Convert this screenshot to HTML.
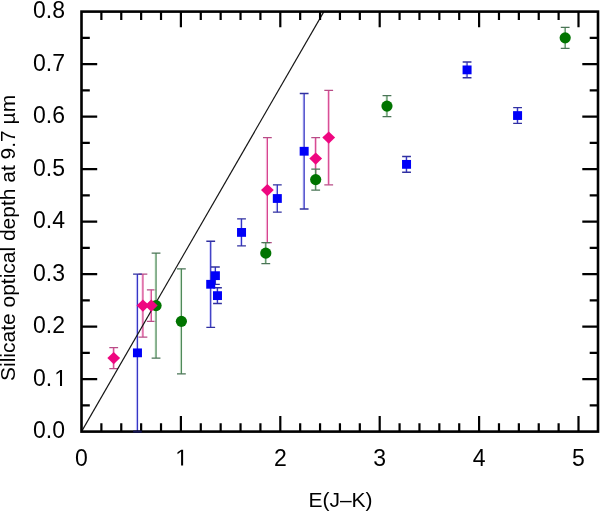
<!DOCTYPE html>
<html><head><meta charset="utf-8"><style>
html,body{margin:0;padding:0;background:#fff;}
svg{display:block;will-change:transform;}
</style></head><body>
<svg width="600" height="512" viewBox="0 0 600 512">
<rect width="600" height="512" fill="#fff"/>
<path d="M112.61 348.40V367.80" stroke="#fbcdea" stroke-width="1.0" fill="none"/><path d="M113.71 347.60V368.60" stroke="#d6468e" stroke-width="1.3" fill="none"/><path d="M109.31 347.60H118.11M109.31 368.60H118.11" stroke="#b84c86" stroke-width="1.3" fill="none"/>
<path d="M141.83 274.90V336.30" stroke="#fbcdea" stroke-width="1.0" fill="none"/><path d="M142.93 274.10V337.10" stroke="#d6468e" stroke-width="1.3" fill="none"/><path d="M138.53 274.10H147.33M138.53 337.10H147.33" stroke="#b84c86" stroke-width="1.3" fill="none"/>
<path d="M150.18 290.65V320.55" stroke="#fbcdea" stroke-width="1.0" fill="none"/><path d="M151.28 289.85V321.35" stroke="#d6468e" stroke-width="1.3" fill="none"/><path d="M146.88 289.85H155.68M146.88 321.35H155.68" stroke="#b84c86" stroke-width="1.3" fill="none"/>
<path d="M266.28 138.40V241.80" stroke="#fbcdea" stroke-width="1.0" fill="none"/><path d="M267.38 137.60V242.60" stroke="#d6468e" stroke-width="1.3" fill="none"/><path d="M262.98 137.60H271.78M262.98 242.60H271.78" stroke="#b84c86" stroke-width="1.3" fill="none"/>
<path d="M314.59 138.40V178.80" stroke="#fbcdea" stroke-width="1.0" fill="none"/><path d="M315.69 137.60V179.60" stroke="#d6468e" stroke-width="1.3" fill="none"/><path d="M311.29 137.60H320.09M311.29 179.60H320.09" stroke="#b84c86" stroke-width="1.3" fill="none"/>
<path d="M327.61 91.15V184.05" stroke="#fbcdea" stroke-width="1.0" fill="none"/><path d="M328.71 90.35V184.85" stroke="#d6468e" stroke-width="1.3" fill="none"/><path d="M324.31 90.35H333.11M324.31 184.85H333.11" stroke="#b84c86" stroke-width="1.3" fill="none"/>
<path d="M154.95 253.90V357.30" stroke="#dcf2dc" stroke-width="1.0" fill="none"/><path d="M156.05 253.10V358.10" stroke="#4f8a5a" stroke-width="1.3" fill="none"/><path d="M151.65 253.10H160.45M151.65 358.10H160.45" stroke="#4a7456" stroke-width="1.3" fill="none"/>
<path d="M180.30 269.65V373.05" stroke="#dcf2dc" stroke-width="1.0" fill="none"/><path d="M181.40 268.85V373.85" stroke="#4f8a5a" stroke-width="1.3" fill="none"/><path d="M177.00 268.85H185.80M177.00 373.85H185.80" stroke="#4a7456" stroke-width="1.3" fill="none"/>
<path d="M264.69 243.40V262.80" stroke="#dcf2dc" stroke-width="1.0" fill="none"/><path d="M265.79 242.60V263.60" stroke="#4f8a5a" stroke-width="1.3" fill="none"/><path d="M261.39 242.60H270.19M261.39 263.60H270.19" stroke="#4a7456" stroke-width="1.3" fill="none"/>
<path d="M314.59 169.90V189.30" stroke="#dcf2dc" stroke-width="1.0" fill="none"/><path d="M315.69 169.10V190.10" stroke="#4f8a5a" stroke-width="1.3" fill="none"/><path d="M311.29 169.10H320.09M311.29 190.10H320.09" stroke="#4a7456" stroke-width="1.3" fill="none"/>
<path d="M385.86 96.40V115.80" stroke="#dcf2dc" stroke-width="1.0" fill="none"/><path d="M386.96 95.60V116.60" stroke="#4f8a5a" stroke-width="1.3" fill="none"/><path d="M382.56 95.60H391.36M382.56 116.60H391.36" stroke="#4a7456" stroke-width="1.3" fill="none"/>
<path d="M564.08 28.15V47.55" stroke="#dcf2dc" stroke-width="1.0" fill="none"/><path d="M565.18 27.35V48.35" stroke="#4f8a5a" stroke-width="1.3" fill="none"/><path d="M560.78 27.35H569.58M560.78 48.35H569.58" stroke="#4a7456" stroke-width="1.3" fill="none"/>
<path d="M136.36 274.90V430.80" stroke="#d2d2ff" stroke-width="1.0" fill="none"/><path d="M137.46 274.10V431.60" stroke="#3636c4" stroke-width="1.3" fill="none"/><path d="M133.06 274.10H141.86M133.06 431.60H141.86" stroke="#3030a0" stroke-width="1.3" fill="none"/>
<path d="M209.62 242.04V326.54" stroke="#d2d2ff" stroke-width="1.0" fill="none"/><path d="M210.72 241.24V327.34" stroke="#3636c4" stroke-width="1.3" fill="none"/><path d="M206.32 241.24H215.12M206.32 327.34H215.12" stroke="#3030a0" stroke-width="1.3" fill="none"/>
<path d="M214.29 267.81V283.54" stroke="#d2d2ff" stroke-width="1.0" fill="none"/><path d="M215.39 267.01V284.34" stroke="#3636c4" stroke-width="1.3" fill="none"/><path d="M210.99 267.01H219.79M210.99 284.34H219.79" stroke="#3030a0" stroke-width="1.3" fill="none"/>
<path d="M216.38 288.55V302.70" stroke="#d2d2ff" stroke-width="1.0" fill="none"/><path d="M217.48 287.75V303.50" stroke="#3636c4" stroke-width="1.3" fill="none"/><path d="M213.08 287.75H221.88M213.08 303.50H221.88" stroke="#3030a0" stroke-width="1.3" fill="none"/>
<path d="M240.43 219.67V245.16" stroke="#d2d2ff" stroke-width="1.0" fill="none"/><path d="M241.53 218.87V245.96" stroke="#3636c4" stroke-width="1.3" fill="none"/><path d="M237.13 218.87H245.93M237.13 245.96H245.93" stroke="#3030a0" stroke-width="1.3" fill="none"/>
<path d="M276.22 185.65V211.35" stroke="#d2d2ff" stroke-width="1.0" fill="none"/><path d="M277.32 184.85V212.15" stroke="#3636c4" stroke-width="1.3" fill="none"/><path d="M272.92 184.85H281.72M272.92 212.15H281.72" stroke="#3030a0" stroke-width="1.3" fill="none"/>
<path d="M303.06 94.30V208.20" stroke="#d2d2ff" stroke-width="1.0" fill="none"/><path d="M304.16 93.50V209.00" stroke="#3636c4" stroke-width="1.3" fill="none"/><path d="M299.76 93.50H308.56M299.76 209.00H308.56" stroke="#3030a0" stroke-width="1.3" fill="none"/>
<path d="M405.44 157.30V171.45" stroke="#d2d2ff" stroke-width="1.0" fill="none"/><path d="M406.54 156.50V172.25" stroke="#3636c4" stroke-width="1.3" fill="none"/><path d="M402.14 156.50H410.94M402.14 172.25H410.94" stroke="#3030a0" stroke-width="1.3" fill="none"/>
<path d="M465.97 62.80V76.95" stroke="#d2d2ff" stroke-width="1.0" fill="none"/><path d="M467.07 62.00V77.75" stroke="#3636c4" stroke-width="1.3" fill="none"/><path d="M462.67 62.00H471.47M462.67 77.75H471.47" stroke="#3030a0" stroke-width="1.3" fill="none"/>
<path d="M516.47 108.48V122.63" stroke="#d2d2ff" stroke-width="1.0" fill="none"/><path d="M517.57 107.68V123.43" stroke="#3636c4" stroke-width="1.3" fill="none"/><path d="M513.17 107.68H521.97M513.17 123.43H521.97" stroke="#3030a0" stroke-width="1.3" fill="none"/>
<line x1="81.5" y1="431.6" x2="323.9" y2="11.6" stroke="#151515" stroke-width="1.15"/>
<circle cx="156.05" cy="305.60" r="5.6" fill="#007400"/>
<circle cx="181.40" cy="321.35" r="5.6" fill="#007400"/>
<circle cx="265.79" cy="253.10" r="5.6" fill="#007400"/>
<circle cx="315.69" cy="179.60" r="5.6" fill="#007400"/>
<circle cx="386.96" cy="106.10" r="5.6" fill="#007400"/>
<circle cx="565.18" cy="37.85" r="5.6" fill="#007400"/>
<rect x="132.96" y="348.45" width="9" height="8.8" fill="#0000f8"/>
<rect x="206.22" y="279.89" width="9" height="8.8" fill="#0000f8"/>
<rect x="210.89" y="271.28" width="9" height="8.8" fill="#0000f8"/>
<rect x="212.98" y="291.23" width="9" height="8.8" fill="#0000f8"/>
<rect x="237.03" y="228.02" width="9" height="8.8" fill="#0000f8"/>
<rect x="272.82" y="194.10" width="9" height="8.8" fill="#0000f8"/>
<rect x="299.66" y="146.85" width="9" height="8.8" fill="#0000f8"/>
<rect x="402.04" y="159.97" width="9" height="8.8" fill="#0000f8"/>
<rect x="462.57" y="65.48" width="9" height="8.8" fill="#0000f8"/>
<rect x="513.07" y="111.15" width="9" height="8.8" fill="#0000f8"/>
<polygon points="107.31,358.10 113.71,351.90 120.11,358.10 113.71,364.30" fill="#ef0680"/>
<polygon points="136.53,305.60 142.93,299.40 149.33,305.60 142.93,311.80" fill="#ef0680"/>
<polygon points="144.88,305.60 151.28,299.40 157.68,305.60 151.28,311.80" fill="#ef0680"/>
<polygon points="260.98,190.10 267.38,183.90 273.78,190.10 267.38,196.30" fill="#ef0680"/>
<polygon points="309.29,158.60 315.69,152.40 322.09,158.60 315.69,164.80" fill="#ef0680"/>
<polygon points="322.31,137.60 328.71,131.40 335.11,137.60 328.71,143.80" fill="#ef0680"/>
<path d="M101.38 431.60V423.30M101.38 11.60V19.90M121.26 431.60V423.30M121.26 11.60V19.90M141.14 431.60V423.30M141.14 11.60V19.90M161.02 431.60V423.30M161.02 11.60V19.90M180.90 431.60V415.90M180.90 11.60V27.30M200.78 431.60V423.30M200.78 11.60V19.90M220.66 431.60V423.30M220.66 11.60V19.90M240.54 431.60V423.30M240.54 11.60V19.90M260.42 431.60V423.30M260.42 11.60V19.90M280.30 431.60V415.90M280.30 11.60V27.30M300.18 431.60V423.30M300.18 11.60V19.90M320.06 431.60V423.30M320.06 11.60V19.90M339.94 431.60V423.30M339.94 11.60V19.90M359.82 431.60V423.30M359.82 11.60V19.90M379.70 431.60V415.90M379.70 11.60V27.30M399.58 431.60V423.30M399.58 11.60V19.90M419.46 431.60V423.30M419.46 11.60V19.90M439.34 431.60V423.30M439.34 11.60V19.90M459.22 431.60V423.30M459.22 11.60V19.90M479.10 431.60V415.90M479.10 11.60V27.30M498.98 431.60V423.30M498.98 11.60V19.90M518.86 431.60V423.30M518.86 11.60V19.90M538.74 431.60V423.30M538.74 11.60V19.90M558.62 431.60V423.30M558.62 11.60V19.90M578.50 431.60V415.90M578.50 11.60V27.30M81.50 405.35H89.80M598.00 405.35H589.70M81.50 379.10H97.20M598.00 379.10H582.30M81.50 352.85H89.80M598.00 352.85H589.70M81.50 326.60H97.20M598.00 326.60H582.30M81.50 300.35H89.80M598.00 300.35H589.70M81.50 274.10H97.20M598.00 274.10H582.30M81.50 247.85H89.80M598.00 247.85H589.70M81.50 221.60H97.20M598.00 221.60H582.30M81.50 195.35H89.80M598.00 195.35H589.70M81.50 169.10H97.20M598.00 169.10H582.30M81.50 142.85H89.80M598.00 142.85H589.70M81.50 116.60H97.20M598.00 116.60H582.30M81.50 90.35H89.80M598.00 90.35H589.70M81.50 64.10H97.20M598.00 64.10H582.30M81.50 37.85H89.80M598.00 37.85H589.70" stroke="#000" stroke-width="2.2" fill="none"/>
<rect x="81.5" y="11.60" width="516.50" height="420.00" stroke="#000" stroke-width="2.6" fill="none"/>
<path d="M133.16 431.60H141.76" stroke="#141450" stroke-width="2.2" fill="none"/>
<path transform="translate(175.30,465.50) scale(0.011230,-0.011230)" d="M515 0L515 1237L197 1010L197 1180L530 1409L696 1409L696 0Z" fill="#000"/>
<path transform="translate(54.21,385.90) scale(0.011230,-0.011230)" d="M515 0L515 1237L197 1010L197 1180L530 1409L696 1409L696 0Z" fill="#000"/>
<g font-family="Liberation Sans, sans-serif" font-size="23" fill="#000"><text x="81.50" y="465.5" text-anchor="middle">0</text><text x="280.30" y="465.5" text-anchor="middle">2</text><text x="379.70" y="465.5" text-anchor="middle">3</text><text x="479.10" y="465.5" text-anchor="middle">4</text><text x="578.50" y="465.5" text-anchor="middle">5</text><text x="65" y="438.40" text-anchor="end">0.0</text><text x="33.03" y="385.90">0.</text><text x="65" y="333.40" text-anchor="end">0.2</text><text x="65" y="280.90" text-anchor="end">0.3</text><text x="65" y="228.40" text-anchor="end">0.4</text><text x="65" y="175.90" text-anchor="end">0.5</text><text x="65" y="123.40" text-anchor="end">0.6</text><text x="65" y="70.90" text-anchor="end">0.7</text><text x="65" y="18.40" text-anchor="end">0.8</text></g>
<text x="340.5" y="507" text-anchor="middle" font-family="Liberation Sans, sans-serif" font-size="21">E(J–K)</text>
<text transform="translate(15.1,381) rotate(-90) scale(1,0.955)" x="0" y="0" font-family="Liberation Sans, sans-serif" font-size="21">Silicate optical depth at 9.7 µm</text>
</svg>
</body></html>
